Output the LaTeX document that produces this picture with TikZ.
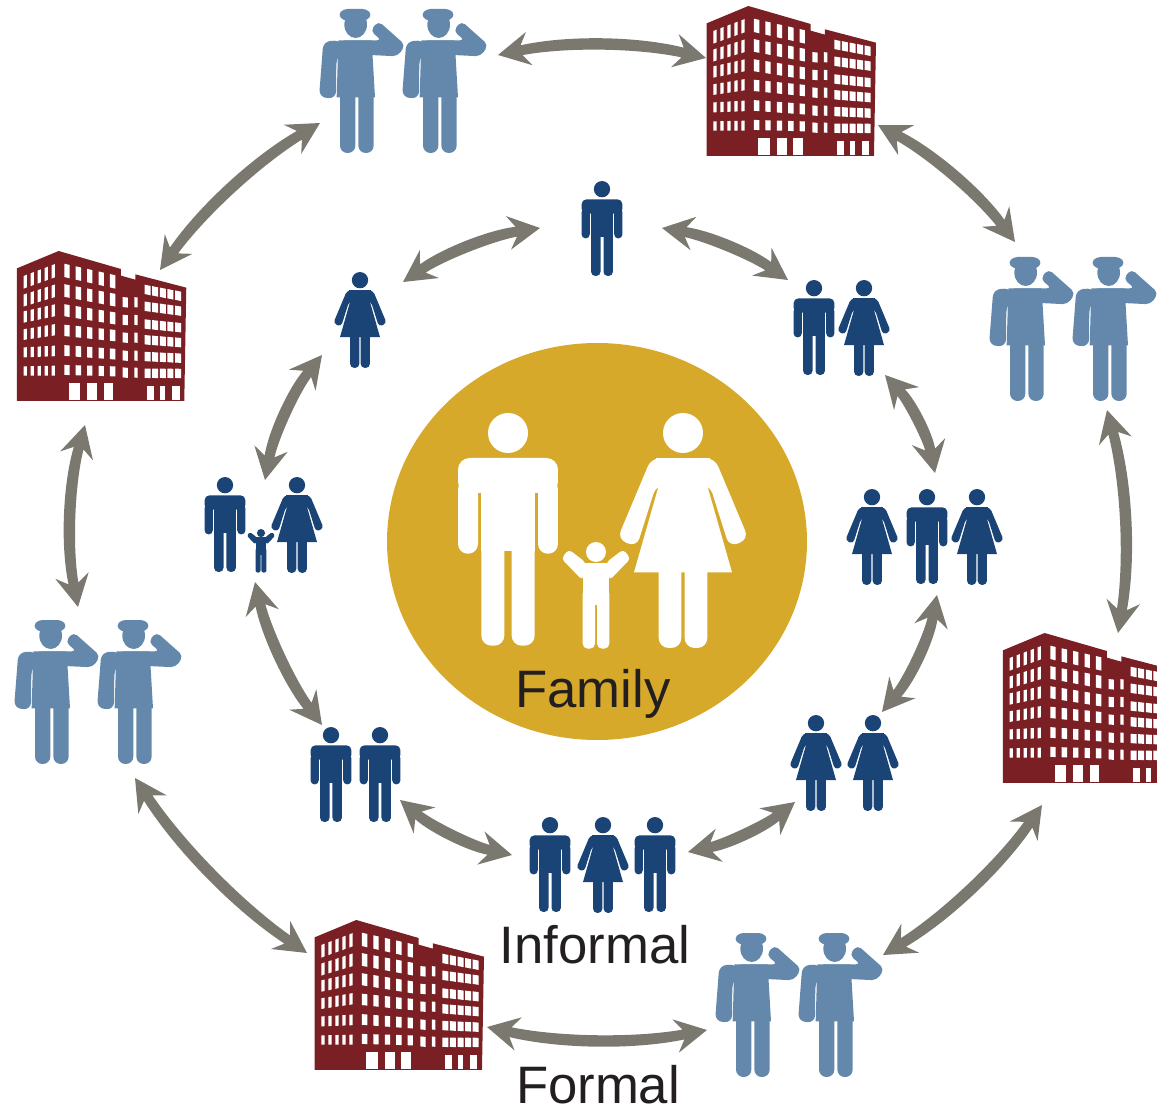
\documentclass[tikz,border=0pt]{standalone}
\usepackage{fontspec}
\setmainfont{Liberation Sans}
\usetikzlibrary{calc,shapes.geometric}
\definecolor{navyfig}{HTML}{1A4476}
\definecolor{bluefig}{HTML}{6488AB}
\definecolor{redfig}{HTML}{7A2024}
\definecolor{goldfig}{HTML}{D7A92B}
\definecolor{arrowgrey}{HTML}{7B796F}
\definecolor{labelink}{HTML}{231F20}
\def\U{0.02cm}
% one slanted window: x, y, half width, half height, slope
\newcommand\winpane[5]{\fill[white] ({#1-#3},{#2-#4-#5*#3}) -- ({#1+#3},{#2-#4+#5*#3}) -- ({#1+#3},{#2+#4+#5*#3}) -- ({#1-#3},{#2+#4-#5*#3}) -- cycle;}
\tikzset{
  figk/.code={\def\figk{#1}},
  figc/.code={\colorlet{figcol}{#1}},
  fig/.style n args={2}{scale=#1,figk=#1,figc=#2},
  rc/.style={rounded corners={#1*\figk*\U}},
  label text/.style={text=labelink,font=\fontsize{30}{34}\selectfont,anchor=base,inner sep=0pt},
  conn/.style={fill=arrowgrey},
  man/.pic={
    \fill[figcol] (0,60) circle (60);
    \fill[figcol,rc=35] (-150,135) -- (150,135) -- (150,240) -- (-150,240) -- cycle;
    \fill[figcol,rc=29] (-150,200) -- (-150,422) -- (-90,422) -- (-90,200) -- cycle;
    \fill[figcol,rc=29] (150,200) -- (150,422) -- (90,422) -- (90,200) -- cycle;
    \fill[figcol] (-80,200) rectangle (80,415);
    \fill[figcol,rc=30] (-80,300) -- (-80,698) -- (-11,698) -- (-11,300) -- cycle;
    \fill[figcol,rc=30] (80,300) -- (80,698) -- (11,698) -- (11,300) -- cycle;
  },
  woman/.pic={
    \fill[figcol] (0,60) circle (60);
    \fill[figcol] (-80,135) -- (80,135) -- (80,215) -- (-80,215) -- cycle;
    \fill[figcol] (-72,215) -- (72,215) -- (147,478) -- (-147,478) -- cycle;
    \fill[figcol,rc=27] (40,135) -- (95,135) -- (197,378) -- (139,402) -- (80,215) -- (40,215) -- cycle;
    \fill[figcol,rc=27] (-40,135) -- (-95,135) -- (-197,378) -- (-139,402) -- (-80,215) -- (-40,215) -- cycle;
    \fill[figcol,rc=30] (-73,420) -- (-73,705) -- (-5,705) -- (-5,420) -- cycle;
    \fill[figcol,rc=30] (73,420) -- (73,705) -- (5,705) -- (5,420) -- cycle;
  },
  kid/.pic={
    \fill[figcol] (0,30) circle (30);
    \fill[figcol,rc=12] (-104,50) -- (-82,22) -- (-30,62) -- (-40,115) -- cycle;
    \fill[figcol,rc=12] (104,50) -- (82,22) -- (30,62) -- (40,115) -- cycle;
    \fill[figcol] (-40,62) rectangle (40,190);
    \fill[figcol,rc=15] (-40,140) -- (-40,320) -- (-3,320) -- (-3,140) -- cycle;
    \fill[figcol,rc=15] (40,140) -- (40,320) -- (3,320) -- (3,140) -- cycle;
  },
  officer/.pic={
    \fill[figcol,rc=12] (-35,3) -- (35,3) -- (51,20) -- (35,38) -- (-35,38) -- (-51,20) -- cycle;
    \fill[figcol] (2,50) ellipse (34 and 40);
    \fill[figcol] (-50,97) -- (50,97) -- (60,268) -- (-55,268) -- cycle;
    \fill[figcol,rc=15] (-45,97) -- (80,97) -- (46,69) -- (70,39) -- (151,111) -- (128,145) -- (45,141) -- (-45,141) -- cycle;
    \fill[figcol,rc=22] (-40,97) -- (-95,100) -- (-108,268) -- (-57,272) -- (-56,150) -- (-40,130) -- cycle;
    \fill[figcol,rc=22] (-45,220) -- (-45,435) -- (1,435) -- (1,220) -- cycle;
    \fill[figcol,rc=22] (10,220) -- (10,435) -- (56,435) -- (56,220) -- cycle;
  },
  building/.pic={
    \fill[figcol] (50,468) -- (50,70) -- (175,18) -- (362,72) -- (362,92) -- (405,104) -- (405,88) -- (558,128) -- (552,468) -- cycle;
    \foreach \ra/\rb [count=\ri] in {110/77,165/137,215/195,268/253,322/316,378/375}
      \foreach \ci in {0,...,4} {
        \pgfmathsetmacro\wy{\ra+(\rb-\ra)*\ci/4}
        \pgfmathsetmacro\wh{20-\ri+\ci*.2}
        \pgfmathsetmacro\ws{(\rb-\ra)/82}
        \winpane{75+20.5*\ci}{\wy}{5+.5*\ci}{\wh}{\ws}
      };
    \foreach \ra/\rb [count=\ri] in {78/110,138/165,197/220,257/272,317/328,375/380}
      \foreach \ci in {0,...,4} {
        \pgfmathsetmacro\wy{\ra+(\rb-\ra)*\ci/4}
        \pgfmathsetmacro\wh{21-\ri}
        \pgfmathsetmacro\ws{(\rb-\ra)/138}
        \winpane{200+34.5*\ci}{\wy}{8-.25*\ci}{\wh}{\ws}
      };
    \foreach \ry in {172,225,278,332,383} {
      \winpane{375}{\ry}{8}{15}{.1}
      \winpane{407}{\ry}{5}{15}{.1}
    };
    \foreach \ra/\rb in {135/155,185/200,238/250,285/295,335/342,385/388}
      \foreach \ci in {0,...,4} {
        \pgfmathsetmacro\wy{\ra+(\rb-\ra)*\ci/4}
        \pgfmathsetmacro\ws{(\rb-\ra)/94}
        \winpane{442+23.5*\ci}{\wy}{9-.7*\ci}{14}{\ws}
      };
    \foreach \xa/\xb in {205/240,260/290,310/338} \fill[white] (\xa,415) rectangle (\xb,465);
    \foreach \xa/\xb in {440/462,480/495,515/538} \fill[white] (\xa,422) rectangle (\xb,465);
  }
}
% double-headed connector: from, to, control offset (px)
\newcommand\conn[3]{%
  \coordinate (ca) at ($(#1)!.33!(#2)!#3*\U!90:(#2)$);
  \coordinate (cb) at ($(#1)!.67!(#2)!#3*\U!90:(#2)$);
  \coordinate (bap) at ($(#1)!32*\U!(ca)!17*\U!90:(ca)$);
  \coordinate (bam) at ($(#1)!32*\U!(ca)!17*\U!-90:(ca)$);
  \coordinate (nap) at ($(#1)!24*\U!(ca)!5*\U!90:(ca)$);
  \coordinate (nam) at ($(#1)!24*\U!(ca)!5*\U!-90:(ca)$);
  \coordinate (bbp) at ($(#2)!32*\U!(cb)!17*\U!-90:(cb)$);
  \coordinate (bbm) at ($(#2)!32*\U!(cb)!17*\U!90:(cb)$);
  \coordinate (nbp) at ($(#2)!24*\U!(cb)!5*\U!-90:(cb)$);
  \coordinate (nbm) at ($(#2)!24*\U!(cb)!5*\U!90:(cb)$);
  \coordinate (cap) at ($(ca)!6*\U!90:(cb)$);
  \coordinate (cam) at ($(ca)!6*\U!-90:(cb)$);
  \coordinate (cbp) at ($(cb)!6*\U!-90:(ca)$);
  \coordinate (cbm) at ($(cb)!6*\U!90:(ca)$);
  \fill[conn] (#1) -- (bap) -- (nap) .. controls (cap) and (cbp) .. (nbp) -- (bbp) -- (#2) -- (bbm) -- (nbm) .. controls (cbm) and (cam) .. (nam) -- (bam) -- cycle;
}
\begin{document}
\begin{tikzpicture}[x=0.02cm,y=-0.02cm]
\useasboundingbox (0,0) rectangle (1157,1108);
% hub
\node[ellipse,fill=goldfig,minimum width=420*\U,minimum height=397*\U,inner sep=0pt] (hub) at (597,541.5) {};
\pic (bigman) [fig={.3333}{white}] at (508,413) {man};
\pic (bigwoman) [fig={.3333}{white}] at (683,413) {woman};
\pic (bigkid) [fig={.3333}{white}] at (596,542) {kid};
% informal ring
\pic (f1) [fig={.136}{navyfig}] at (602,181) {man};
\pic (f2a) [fig={.136}{navyfig}] at (814,280) {man};
\pic (f2b) [fig={.136}{navyfig}] at (864,280) {woman};
\pic (f3a) [fig={.136}{navyfig}] at (872,489) {woman};
\pic (f3b) [fig={.136}{navyfig}] at (927,489) {man};
\pic (f3c) [fig={.136}{navyfig}] at (977,489) {woman};
\pic (f4a) [fig={.136}{navyfig}] at (816,715) {woman};
\pic (f4b) [fig={.136}{navyfig}] at (873,715) {woman};
\pic (f5a) [fig={.136}{navyfig}] at (550,817) {man};
\pic (f5b) [fig={.136}{navyfig}] at (603,817) {woman};
\pic (f5c) [fig={.136}{navyfig}] at (655,817) {man};
\pic (f6a) [fig={.136}{navyfig}] at (331,727) {man};
\pic (f6b) [fig={.136}{navyfig}] at (380,727) {man};
\pic (f7a) [fig={.136}{navyfig}] at (225,477) {man};
\pic (f7b) [fig={.136}{navyfig}] at (261,529) {kid};
\pic (f7c) [fig={.136}{navyfig}] at (297,477) {woman};
\pic (f8) [fig={.136}{navyfig}] at (360,272) {woman};
% formal ring
\pic (o1a) [fig={.3333}{bluefig}] at (355,8) {officer};
\pic (o1b) [fig={.3333}{bluefig}] at (438,8) {officer};
\pic (o2a) [fig={.3333}{bluefig}] at (1025,256) {officer};
\pic (o2b) [fig={.3333}{bluefig}] at (1108,256) {officer};
\pic (o3a) [fig={.3333}{bluefig}] at (751,932) {officer};
\pic (o3b) [fig={.3333}{bluefig}] at (834,932) {officer};
\pic (o4a) [fig={.3333}{bluefig}] at (50,619) {officer};
\pic (o4b) [fig={.3333}{bluefig}] at (133,619) {officer};
\pic (b1) [fig={.3333}{redfig}] at (690,0) {building};
\pic (b2) [fig={.3333}{redfig}] at (986.3,627) {building};
\pic (b3) [fig={.3333}{redfig}] at (298,914) {building};
\pic (b4) [fig={.3333}{redfig}] at (0.3,245) {building};
% labels
\node[label text] (lfamily) at (593,707) {Family};
\node[label text] (linformal) at (595,963) {Informal};
\node[label text] (lformal) at (598,1103) {Formal};
% connector ends
\foreach \nm/\px/\py in {
  ia1/662/228,ia2/788/280,ib1/885/375,ib2/935/473,ic1/937/595,ic2/882/712,
  id1/795/802,id2/688/852,ie1/512/855,ie2/400/800,if1/322/725,if2/255/582,
  ig1/265/480,ig2/322/355,ih1/403/282,ih2/540/228,
  oa1/498/55,oa2/706/58,ob1/878/125,ob2/1015/242,oc1/1107/410,oc2/1118/633,
  od1/1042/805,od2/883/955,oe1/707/1030,oe2/487/1027,of1/307/953,of2/135/778,
  og1/78/607,og2/85/425,oh1/160/270,oh2/320/123}
  \coordinate (\nm) at (\px,\py);
\conn{ia1}{ia2}{10}
\conn{ib1}{ib2}{10}
\conn{ic1}{ic2}{11}
\conn{id1}{id2}{9}
\conn{ie1}{ie2}{10}
\conn{if1}{if2}{11}
\conn{ig1}{ig2}{11}
\conn{ih1}{ih2}{11}
\conn{oa1}{oa2}{15}
\conn{ob1}{ob2}{13}
\conn{oc1}{oc2}{16}
\conn{od1}{od2}{15}
\conn{oe1}{oe2}{15}
\conn{of1}{of2}{16}
\conn{og1}{og2}{14}
\conn{oh1}{oh2}{15}
\end{tikzpicture}
\end{document}
